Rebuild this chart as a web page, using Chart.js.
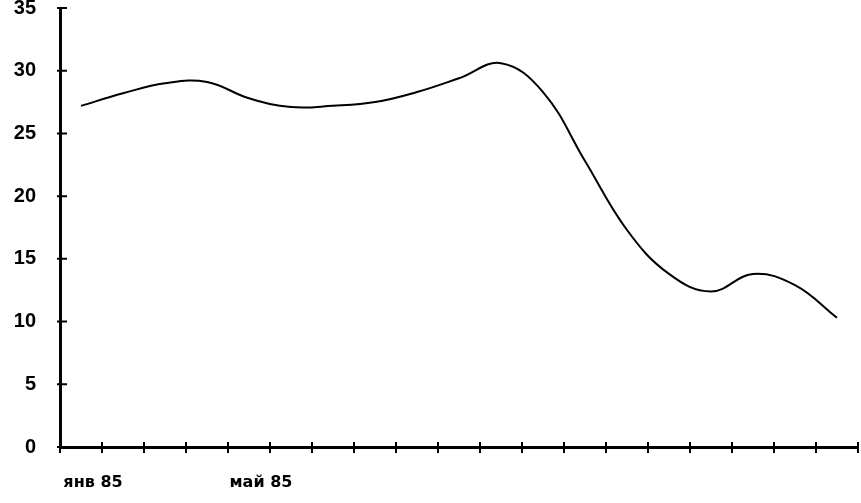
<!DOCTYPE html>
<html>
<head>
<meta charset="utf-8">
<script src="https://cdn.jsdelivr.net/npm/chart.js@4"></script>
<style>
html,body{margin:0;padding:0;background:#fff;}
#wrap{width:861px;height:503px;position:relative;}
</style>
</head>
<body>
<div id="wrap"><canvas id="c"></canvas></div>
<script>
// Months янв 85 .. июл 86
const categories = ["янв 85","фев 85","мар 85","апр 85","май 85","июн 85","июл 85","авг 85","сен 85","окт 85","ноя 85","дек 85","янв 86","фев 86","мар 86","апр 86","май 86","июн 86","июл 86"];
const shownLabels = ["янв 85","","","","май 85","","","","","","","","","","","","","",""];
const values = [27.2, 28.2, 29.0, 29.1, 27.8, 27.1, 27.2, 27.5, 28.3, 29.4, 30.6, 28.3, 22.8, 17.3, 13.8, 12.4, 13.8, 12.9, 10.3];
const yTicks = [0, 5, 10, 15, 20, 25, 30, 35];

const tickMarks = {
  id: 'tickMarks',
  afterDraw(chart) {
    const ctx = chart.ctx;
    const x = chart.scales.x, y = chart.scales.y;
    const area = chart.chartArea;
    ctx.save();
    ctx.strokeStyle = '#000';
    ctx.lineWidth = 2;
    ctx.beginPath();
    y.ticks.forEach(t => {
      const py = y.getPixelForValue(t.value);
      ctx.moveTo(area.left - 3, py);
      ctx.lineTo(area.left + 7, py);
    });
    for (let i = 0; i <= categories.length; i++) {
      const px = x.getPixelForValue(i - 0.5);
      ctx.moveTo(px, area.bottom - 5);
      ctx.lineTo(px, area.bottom + 6);
    }
    ctx.stroke();
    ctx.restore();
  }
};

const noEdgePad = s => { s.paddingLeft = 0; s.paddingRight = 0; s.paddingTop = 0; s.paddingBottom = 0; };

new Chart(document.getElementById('c'), {
  type: 'line',
  data: {
    labels: categories,
    datasets: [{
      data: values,
      borderColor: '#000',
      borderWidth: 2,
      pointRadius: 0,
      tension: 0.4,
      fill: false
    }]
  },
  options: {
    responsive: true,
    maintainAspectRatio: false,
    animation: false,
    layout: { padding: { left: 14, right: 3, top: 8, bottom: 11 } },
    plugins: { legend: { display: false }, tooltip: { enabled: false } },
    scales: {
      x: {
        offset: true,
        afterFit: s => { noEdgePad(s); s.height = 45; },
        grid: { display: true, drawOnChartArea: false, drawTicks: false, offset: true, color: 'rgba(0,0,0,0)' },
        border: { display: true, color: '#000', width: 3 },
        ticks: {
          autoSkip: false, maxRotation: 0, minRotation: 0, padding: 26, labelOffset: 12,
          color: '#000',
          font: { family: 'DejaVu Sans', weight: 'bold', size: 16 },
          callback: (v, i) => shownLabels[i]
        }
      },
      y: {
        min: 0, max: 35,
        afterBuildTicks: s => { s.ticks = yTicks.map(v => ({ value: v })); },
        afterFit: s => { noEdgePad(s); s.width = 46; },
        grid: { display: true, drawOnChartArea: false, drawTicks: false, color: 'rgba(0,0,0,0)' },
        border: { display: true, color: '#000', width: 3 },
        ticks: {
          padding: 24,
          color: '#000',
          font: { family: 'Liberation Sans', weight: 'bold', size: 20 }
        }
      }
    }
  },
  plugins: [tickMarks]
});
</script>
</body>
</html>
